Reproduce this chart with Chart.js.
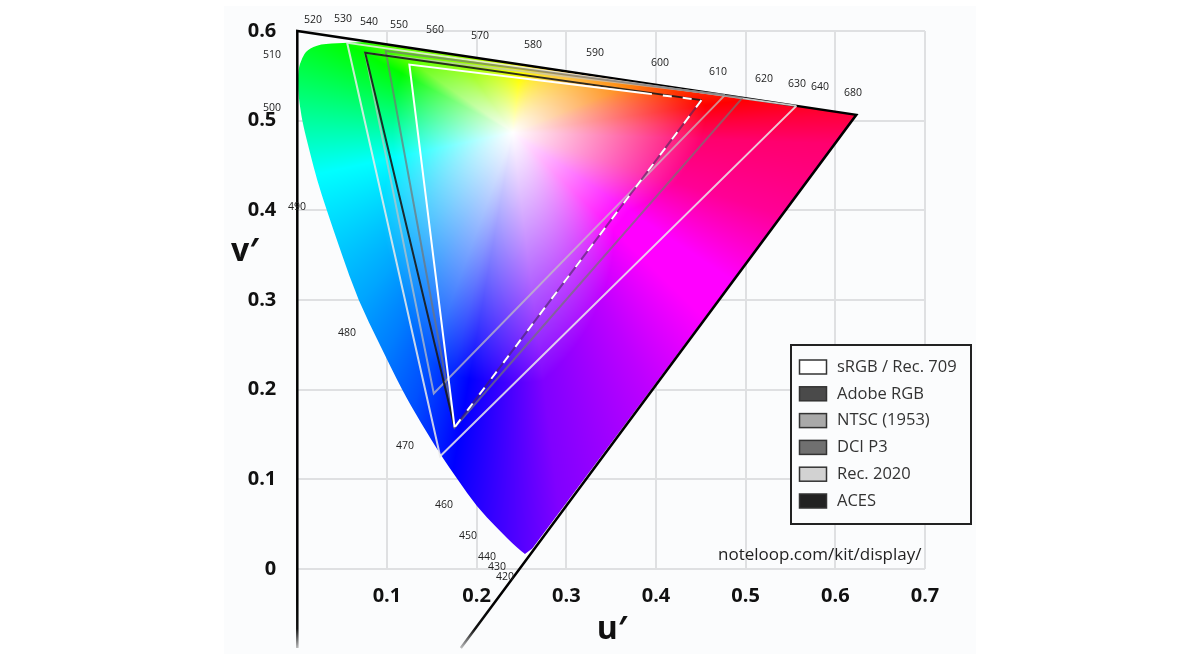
<!DOCTYPE html>
<html>
<head>
<meta charset="utf-8">
<title>CIE 1976 u'v' gamuts</title>
<script src="https://cdn.jsdelivr.net/npm/chart.js@4"></script>
<style>
  html, body { margin: 0; padding: 0; background: #fff; overflow: hidden; }
  #panel { position: absolute; left: 224px; top: 6px; width: 752px; height: 648px; background: #fbfcfd; }
  #chart { position: absolute; left: 0; top: 0; }
</style>
</head>
<body>
<div id="panel"></div>
<canvas id="chart" width="1200" height="654"></canvas>
<script>
// axis ticks
const uTickLabels = ['', '0.1', '0.2', '0.3', '0.4', '0.5', '0.6', '0.7'];
const vTickLabels = ['0', '0.1', '0.2', '0.3', '0.4', '0.5', '0.6'];

// horseshoe outline
const locusU = [0.2539, 0.2450, 0.2227, 0.2004, 0.1792, 0.1614, 0.1379, 0.1168, 0.0922, 0.0677, 0.0487, 0.0320, 0.0220, 0.0142, 0.0064, 0.0030, 0.0008, 0.0008, 0.0052, 0.0108, 0.0253, 0.0510, 0.0755, 0.6234, 0.2620];
const locusV = [0.0167, 0.0234, 0.0457, 0.0691, 0.0993, 0.1249, 0.1628, 0.1996, 0.2498, 0.3000, 0.3535, 0.4026, 0.4338, 0.4639, 0.4951, 0.5152, 0.5342, 0.5565, 0.5699, 0.5788, 0.5855, 0.5866, 0.5877, 0.5065, 0.0230];

// gamut triangles
const srgbU = [0.4507, 0.1754, 0.1250, 0.3855, 0.4507];
const srgbV = [0.5229, 0.1579, 0.5625, 0.5308, 0.5229];
const adobeU = [0.4507, 0.0757, 0.1754, 0.4507];
const adobeV = [0.5229, 0.5757, 0.1579, 0.5229];
const ntscU = [0.4769, 0.0757, 0.1522, 0.4769];
const ntscV = [0.5285, 0.5757, 0.1957, 0.5285];
const p3U = [0.4964, 0.0986, 0.1754, 0.4964];
const p3V = [0.5255, 0.5777, 0.1579, 0.5255];
const rec2020U = [0.5566, 0.0556, 0.1593, 0.5566];
const rec2020V = [0.5165, 0.5868, 0.1258, 0.5165];
const acesU = [0, 0, 0.6234, 0.1824];
const acesV = [-0.088, 0.6, 0.5065, -0.088];

// wavelength labels
const waveNames = ['520', '530', '540', '550', '560', '570', '580', '590', '600', '610', '620', '630', '640', '680', '510', '500', '490', '480', '470', '460', '450', '440', '430', '420'];
const waveU = [0.0175, 0.0510, 0.0800, 0.1134, 0.1536, 0.2037, 0.2628, 0.3320, 0.4045, 0.4692, 0.5205, 0.5572, 0.5829, 0.6197, -0.0282, -0.0282, -0.0003, 0.0554, 0.1201, 0.1637, 0.1904, 0.2116, 0.2227, 0.2316];
const waveV = [0.6123, 0.6134, 0.6100, 0.6067, 0.6011, 0.5944, 0.5844, 0.5755, 0.5644, 0.5543, 0.5465, 0.5410, 0.5376, 0.5309, 0.5732, 0.5141, 0.4037, 0.2632, 0.1372, 0.0714, 0.0368, 0.0134, 0.0022, -0.0089];

// legend
const legendNames = ['sRGB / Rec. 709', 'Adobe RGB', 'NTSC (1953)', 'DCI P3', 'Rec. 2020', 'ACES'];
const legendFills = ['#ffffff', '#4a4a4a', '#a9a9a9', '#707070', '#d2d2d2', '#222222'];

// colour field: hue and how far it takes to saturate, by angle round the white spot
const whiteU = 0.2397, whiteV = 0.4874;
const hueAngles = [8, 22, 83, 125, 145, 152, 172, 192, 228, 240, 250, 256, 260, 277, 298, 316, 326, 343, 358, 363, 368];
const hueReds = [255, 255, 255, 150, 90, 0, 0, 0, 0, 0, 0, 0, 0, 128, 190, 255, 255, 255, 255, 255, 255];
const hueGreens = [0, 128, 255, 255, 255, 255, 255, 255, 165, 125, 80, 35, 0, 0, 0, 0, 0, 0, 0, 0, 0];
const hueBlues = [0, 0, 0, 0, 0, 0, 128, 255, 255, 255, 255, 255, 255, 255, 255, 255, 255, 150, 110, 60, 0];
const hueReach = [0.217, 0.145, 0.061, 0.09, 0.14, 0.14, 0.134, 0.134, 0.2, 0.23, 0.27, 0.279, 0.279, 0.279, 0.21, 0.156, 0.156, 0.19, 0.21, 0.215, 0.217];

function zip(us, vs) {
  return us.map((u, i) => ({ x: u, y: vs[i] }));
}

function lookup(table, angle) {
  let i = 0;
  while (i < hueAngles.length - 2 && angle > hueAngles[i + 1]) i++;
  const t = (angle - hueAngles[i]) / (hueAngles[i + 1] - hueAngles[i]);
  return table[i] + (table[i + 1] - table[i]) * t;
}

function paintField(chart) {
  const xs = chart.scales.x, ys = chart.scales.y;
  const off = document.createElement('canvas');
  off.width = chart.width;
  off.height = chart.height;
  const octx = off.getContext('2d');
  const img = octx.createImageData(off.width, off.height);
  for (let py = 0; py < off.height; py++) {
    const v = ys.getValueForPixel(py);
    for (let px = 280; px < 880; px++) {
      const u = xs.getValueForPixel(px);
      const du = u - whiteU, dv = v - whiteV;
      let angle = Math.atan2(dv, du) * 180 / Math.PI;
      if (angle < 8) angle += 360;
      const dist = Math.sqrt(du * du + dv * dv);
      const s = Math.min(1, dist / lookup(hueReach, angle));
      const k = (px + py * off.width) * 4;
      img.data[k] = 255 + (lookup(hueReds, angle) - 255) * s;
      img.data[k + 1] = 255 + (lookup(hueGreens, angle) - 255) * s;
      img.data[k + 2] = 255 + (lookup(hueBlues, angle) - 255) * s;
      img.data[k + 3] = 255;
    }
  }
  octx.putImageData(img, 0, 0);
  return off;
}

const fieldPlugin = {
  id: 'field',
  beforeDatasetsDraw(chart) {
    const ctx = chart.ctx, xs = chart.scales.x, ys = chart.scales.y;
    if (!chart.$field) chart.$field = paintField(chart);
    const pts = locusU.map((u, i) => [xs.getPixelForValue(u), ys.getPixelForValue(locusV[i])]);
    const curveEnd = 22; // the curved part stops where the outline meets the straight top edge
    ctx.save();
    ctx.beginPath();
    ctx.moveTo(pts[0][0], pts[0][1]);
    for (let i = 1; i < curveEnd; i++) {
      const mx = (pts[i][0] + pts[i + 1][0]) / 2, my = (pts[i][1] + pts[i + 1][1]) / 2;
      ctx.quadraticCurveTo(pts[i][0], pts[i][1], mx, my);
    }
    for (let i = curveEnd; i < pts.length; i++) ctx.lineTo(pts[i][0], pts[i][1]);
    ctx.closePath();
    ctx.clip();
    ctx.drawImage(chart.$field, 0, 0);
    ctx.restore();
  }
};

const textPlugin = {
  id: 'texts',
  afterDraw(chart) {
    const ctx = chart.ctx, xs = chart.scales.x, ys = chart.scales.y;
    ctx.save();
    ctx.textBaseline = 'middle';

    // wavelengths
    ctx.textAlign = 'center';
    ctx.fillStyle = '#222';
    ctx.font = '10.5px "Open Sans"';
    waveNames.forEach((w, i) => ctx.fillText(w, xs.getPixelForValue(waveU[i]), ys.getPixelForValue(waveV[i])));

    // axis names
    ctx.fillStyle = '#111';
    ctx.font = 'bold 32px "Open Sans"';
    ctx.fillText('v\u2032', 245, 252);
    ctx.fillText('u\u2032', 612, 630);

    // legend box
    ctx.fillStyle = '#fbfcfd';
    ctx.strokeStyle = '#222';
    ctx.lineWidth = 2;
    ctx.fillRect(791, 345, 180, 179);
    ctx.strokeRect(791, 345, 180, 179);
    ctx.textAlign = 'left';
    ctx.font = '16.5px "Open Sans"';
    legendNames.forEach((name, i) => {
      const y = 367 + i * 26.8;
      ctx.fillStyle = legendFills[i];
      ctx.strokeStyle = '#333';
      ctx.lineWidth = 1.5;
      ctx.fillRect(799.5, y - 7, 27, 14);
      ctx.strokeRect(799.5, y - 7, 27, 14);
      ctx.fillStyle = '#333';
      ctx.fillText(name, 837, y);
    });

    ctx.fillStyle = '#222';
    ctx.font = '17px "Open Sans"';
    ctx.fillText('noteloop.com/kit/display/', 718, 555);
    ctx.restore();
  }
};

function gamut(label, us, vs, color, order, extra) {
  return Object.assign({
    label: label,
    data: zip(us, vs),
    showLine: true,
    fill: false,
    borderColor: color,
    borderWidth: 2,
    pointRadius: 0,
    tension: 0,
    clip: false,
    order: order
  }, extra);
}

function acesColor(context) {
  const chart = context.chart;
  if (!chart.chartArea) return '#000';
  const g = chart.ctx.createLinearGradient(0, 600, 0, 648);
  g.addColorStop(0, '#000');
  g.addColorStop(0.6, '#111');
  g.addColorStop(1, 'rgba(0,0,0,0.25)');
  return g;
}

new Chart(document.getElementById('chart'), {
  type: 'scatter',
  data: {
    datasets: [
      gamut('sRGB / Rec. 709', srgbU, srgbV, '#ffffff', 1, {
        segment: { borderDash: c => (c.p0DataIndex === 0 || c.p0DataIndex === 3) ? [9, 11] : undefined }
      }),
      gamut('Adobe RGB', adobeU, adobeV, 'rgba(25,25,25,0.9)', 2, {
        segment: { borderColor: c => c.p0DataIndex === 2 ? 'rgba(70,40,90,0.6)' : undefined }
      }),
      gamut('NTSC (1953)', ntscU, ntscV, 'rgba(195,195,195,0.7)', 4),
      gamut('DCI P3', p3U, p3V, 'rgba(115,115,115,0.7)', 3),
      gamut('Rec. 2020', rec2020U, rec2020V, 'rgba(235,235,235,0.85)', 5),
      gamut('ACES', acesU, acesV, acesColor, 6, { borderWidth: 2.5 })
    ]
  },
  options: {
    responsive: false,
    animation: false,
    layout: { padding: { left: 237.3, right: 275, top: 31, bottom: 25 } },
    plugins: { legend: { display: false }, tooltip: { enabled: false } },
    scales: {
      x: {
        type: 'linear',
        min: 0,
        max: 0.7,
        afterFit: s => { s.height = 60; },
        border: { display: false },
        grid: { color: '#dfe0e2', lineWidth: 2, drawTicks: false },
        ticks: {
          stepSize: 0.1,
          padding: 15,
          autoSkip: false,
          maxRotation: 0,
          color: '#111',
          font: { family: 'Open Sans', weight: 'bold', size: 20 },
          callback: (value, index) => uTickLabels[index]
        }
      },
      y: {
        type: 'linear',
        min: 0,
        max: 0.6,
        // tick padding would otherwise push the plot top down
        afterFit: s => { s.width = 60; s.paddingTop = 0; },
        border: { display: false },
        grid: { color: '#dfe0e2', lineWidth: 2, drawTicks: false },
        ticks: {
          stepSize: 0.1,
          padding: 21,
          autoSkip: false,
          color: '#111',
          font: { family: 'Open Sans', weight: 'bold', size: 20 },
          callback: (value, index) => vTickLabels[index]
        }
      }
    }
  },
  plugins: [fieldPlugin, textPlugin]
});
</script>
</body>
</html>
